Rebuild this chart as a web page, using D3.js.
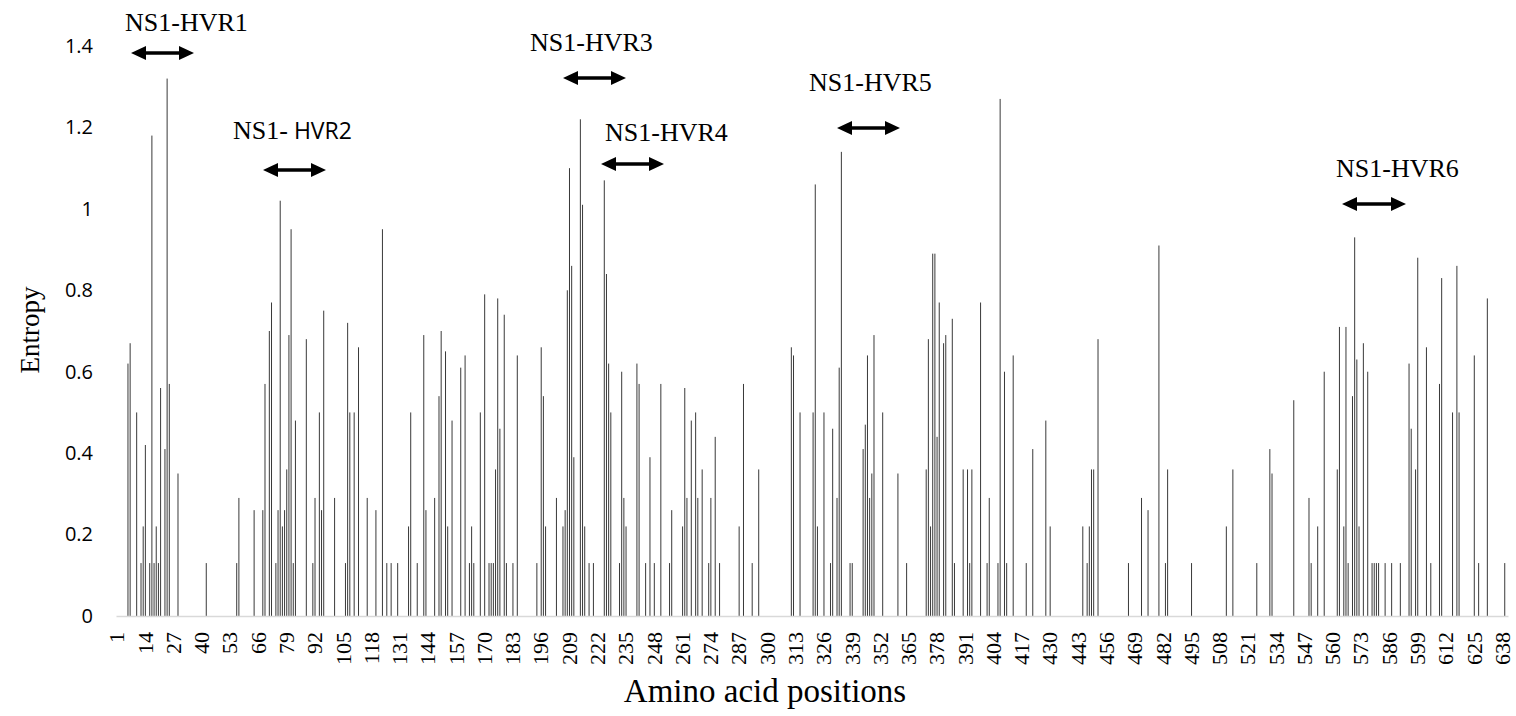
<!DOCTYPE html>
<html>
<head>
<meta charset="utf-8">
<script src="https://cdn.jsdelivr.net/npm/d3@7"></script>
<style>
  html, body { margin: 0; padding: 0; background: #fff; }
  svg { display: block; }
  .serif { font-family: "Liberation Serif", "Times New Roman", Times, "DejaVu Serif", serif; }
  .sans { font-family: "Open Sans", Lato, "Liberation Sans", sans-serif; }
</style>
</head>
<body>
<svg id="chart" width="1516" height="716"></svg>
<script>
// ---------------- DATA ----------------
const positions = [
  6, 7, 10, 12, 13, 14, 16, 17, 18, 19, 20, 21, 23, 24, 25, 29, 42, 56, 57, 64,
  68, 69, 71, 72, 74, 75, 76, 77, 78, 79, 80, 81, 82, 83, 88, 91, 92, 94, 95, 96,
  101, 106, 107, 108, 110, 112, 116, 120, 123, 125, 127, 130, 135, 136, 139, 142, 143, 147, 149, 150,
  152, 153, 155, 159, 161, 163, 164, 165, 168, 170, 172, 173, 174, 175, 176, 177, 179, 180, 183, 185,
  194, 196, 197, 198, 203, 206, 207, 208, 209, 210, 211, 214, 215, 216, 218, 220, 225, 226, 227, 228,
  232, 233, 234, 235, 240, 241, 244, 246, 248, 251, 255, 256, 261, 262, 263, 265, 267, 268, 270, 273,
  274, 276, 278, 287, 289, 293, 296, 311, 312, 315, 321, 322, 323, 326, 329, 330, 332, 333, 334, 338,
  339, 344, 345, 346, 347, 348, 349, 353, 360, 364, 373, 374, 375, 376, 377, 378, 379, 381, 382, 385,
  386, 390, 392, 393, 394, 398, 401, 402, 406, 407, 409, 410, 413, 419, 422, 428, 430, 445, 447, 448,
  449, 450, 452, 466, 472, 475, 480, 483, 484, 495, 511, 514, 525, 531, 532, 542, 549, 550, 553, 556,
  562, 563, 565, 566, 567, 569, 570, 571, 572, 574, 576, 578, 579, 580, 581, 584, 587, 591, 595, 596,
  598, 599, 603, 605, 609, 610, 615, 617, 618, 625, 627, 631, 639
];
const entropy = [
  0.62, 0.67, 0.50, 0.13, 0.22, 0.42, 0.13, 1.18, 0.13, 0.22, 0.13, 0.56, 0.41, 1.32, 0.57, 0.35, 0.13, 0.13, 0.29, 0.26,
  0.26, 0.57, 0.70, 0.77, 0.13, 0.26, 1.02, 0.22, 0.26, 0.36, 0.69, 0.95, 0.13, 0.48, 0.68, 0.13, 0.29, 0.50, 0.26, 0.75,
  0.29, 0.13, 0.72, 0.50, 0.50, 0.66, 0.29, 0.26, 0.95, 0.13, 0.13, 0.13, 0.22, 0.50, 0.13, 0.69, 0.26, 0.29, 0.54, 0.70,
  0.65, 0.22, 0.48, 0.61, 0.64, 0.13, 0.22, 0.13, 0.50, 0.79, 0.13, 0.13, 0.13, 0.36, 0.78, 0.46, 0.74, 0.13, 0.13, 0.64,
  0.13, 0.66, 0.54, 0.22, 0.29, 0.22, 0.26, 0.80, 1.10, 0.86, 0.39, 1.22, 1.01, 0.22, 0.13, 0.13, 1.07, 0.84, 0.62, 0.50,
  0.13, 0.60, 0.29, 0.22, 0.62, 0.57, 0.13, 0.39, 0.13, 0.57, 0.13, 0.26, 0.22, 0.56, 0.29, 0.48, 0.50, 0.29, 0.36, 0.13,
  0.29, 0.44, 0.13, 0.22, 0.57, 0.13, 0.36, 0.66, 0.64, 0.50, 0.50, 1.06, 0.22, 0.50, 0.13, 0.46, 0.29, 0.61, 1.14, 0.13,
  0.13, 0.41, 0.47, 0.64, 0.29, 0.35, 0.69, 0.50, 0.35, 0.13, 0.36, 0.68, 0.22, 0.89, 0.89, 0.44, 0.77, 0.67, 0.69, 0.73,
  0.13, 0.36, 0.36, 0.13, 0.36, 0.77, 0.13, 0.29, 0.13, 1.27, 0.60, 0.13, 0.64, 0.13, 0.41, 0.48, 0.22, 0.22, 0.13, 0.22,
  0.36, 0.36, 0.68, 0.13, 0.29, 0.26, 0.91, 0.13, 0.36, 0.13, 0.22, 0.36, 0.13, 0.41, 0.35, 0.53, 0.29, 0.13, 0.22, 0.60,
  0.36, 0.71, 0.22, 0.71, 0.13, 0.54, 0.93, 0.63, 0.22, 0.67, 0.60, 0.13, 0.13, 0.13, 0.13, 0.13, 0.13, 0.13, 0.62, 0.46,
  0.36, 0.88, 0.66, 0.13, 0.57, 0.83, 0.50, 0.86, 0.50, 0.64, 0.13, 0.78, 0.13
];
const categoryCount = 640;
const xTickValues = [1, 14, 27, 40, 53, 66, 79, 92, 105, 118, 131, 144, 157, 170, 183, 196, 209, 222, 235, 248,
  261, 274, 287, 300, 313, 326, 339, 352, 365, 378, 391, 404, 417, 430, 443, 456, 469, 482, 495, 508,
  521, 534, 547, 560, 573, 586, 599, 612, 625, 638];
const yTickValues = [0, 0.2, 0.4, 0.6, 0.8, 1.0, 1.2, 1.4];
const yTickLabels = ["0", "0.2", "0.4", "0.6", "0.8", "1", "1.2", "1.4"];
const hvrNames = ["NS1-HVR1", "NS1- HVR2", "NS1-HVR3", "NS1-HVR4", "NS1-HVR5", "NS1-HVR6"];

// ---------------- LAYOUT ----------------
const W = 1516, H = 716;
const plot = { left: 116, right: 1508, top: 46, bottom: 616 };
// annotation layout (pixels): text start x, text baseline y, arrow x0, x1, y
const hvrLayout = [
  { tx: 125,  ty: 31,  ax0: 131,  ax1: 194,  ay: 53 },
  { tx: 233,  ty: 139, ax0: 263,  ax1: 326,  ay: 170 },
  { tx: 530,  ty: 51,  ax0: 563,  ax1: 626,  ay: 78 },
  { tx: 605,  ty: 141, ax0: 601,  ax1: 664,  ay: 164 },
  { tx: 809,  ty: 91,  ax0: 837,  ax1: 900,  ay: 128 },
  { tx: 1336, ty: 177, ax0: 1342, ax1: 1406, ay: 204 }
];

const svg = d3.select("#chart");
svg.append("rect").attr("width", W).attr("height", H).attr("fill", "#fff");

const x = d3.scaleBand()
  .domain(d3.range(1, categoryCount + 1))
  .range([plot.left, plot.right])
  .padding(0);
const y = d3.scaleLinear().domain([0, 1.4]).range([plot.bottom, plot.top]);

const data = positions.map((p, i) => ({ p, v: entropy[i] }));

// bars
svg.append("g").selectAll("rect").data(data).join("rect")
  .attr("x", d => x(d.p) + x.bandwidth() / 2 - 0.5)
  .attr("width", 1)
  .attr("y", d => y(d.v))
  .attr("height", d => y(0) - y(d.v))
  .attr("fill", "#3a3a3a");

// x axis
const xAxis = d3.axisBottom(x).tickValues(xTickValues).tickSize(0).tickSizeOuter(0).tickPadding(0);
const gx = svg.append("g").attr("transform", `translate(0,${plot.bottom})`).call(xAxis)
  .attr("font-family", null).attr("font-size", null);
gx.select(".domain").attr("stroke", "#d9d9d9").attr("stroke-width", 1.3);
gx.selectAll(".tick text")
  .attr("class", "serif")
  .style("font-size", "22px")
  .attr("fill", "#000")
  .attr("text-anchor", "end")
  .attr("transform", "rotate(-90)")
  .attr("x", -16)
  .attr("y", 0)
  .attr("dy", "0.33em");

// y axis
const yAxis = d3.axisLeft(y).tickValues(yTickValues)
  .tickFormat((d, i) => yTickLabels[i]).tickSize(0).tickPadding(0);
const gy = svg.append("g").attr("transform", `translate(93,0)`).call(yAxis)
  .attr("font-family", null).attr("font-size", null);
gy.select(".domain").remove();
gy.selectAll(".tick text")
  .attr("class", "sans")
  .style("font-size", "20px")
  .attr("fill", "#000");

// axis titles
svg.append("text")
  .attr("class", "serif")
  .attr("x", 765).attr("y", 702)
  .attr("text-anchor", "middle")
  .style("font-size", "33px")
  .attr("fill", "#000")
  .text("Amino acid positions");

svg.append("text")
  .attr("class", "serif")
  .attr("transform", "translate(39,330) rotate(-90)")
  .attr("text-anchor", "middle")
  .style("font-size", "27px")
  .attr("fill", "#000")
  .text("Entropy");

// HVR annotations
const ann = svg.append("g");
hvrNames.forEach((name, i) => {
  const L = hvrLayout[i];
  const t = ann.append("text")
    .attr("class", "serif")
    .attr("x", L.tx).attr("y", L.ty)
    .style("font-size", "26px")
    .attr("fill", "#000");
  if (name.indexOf("- ") >= 0) {
    const parts = name.split(" ");
    t.append("tspan").text(parts[0]);
    t.append("tspan").attr("class", "sans").style("font-size", "23px").text("\u00a0" + parts[1]);
  } else {
    t.text(name);
  }
  const hl = 15, hw = 7;
  ann.append("line")
    .attr("x1", L.ax0 + hl - 2).attr("x2", L.ax1 - hl + 2)
    .attr("y1", L.ay).attr("y2", L.ay)
    .attr("stroke", "#000").attr("stroke-width", 3.5);
  ann.append("path")
    .attr("d", `M${L.ax0},${L.ay} L${L.ax0 + hl},${L.ay - hw} L${L.ax0 + hl},${L.ay + hw} Z`)
    .attr("fill", "#000");
  ann.append("path")
    .attr("d", `M${L.ax1},${L.ay} L${L.ax1 - hl},${L.ay - hw} L${L.ax1 - hl},${L.ay + hw} Z`)
    .attr("fill", "#000");
});
</script>
</body>
</html>
